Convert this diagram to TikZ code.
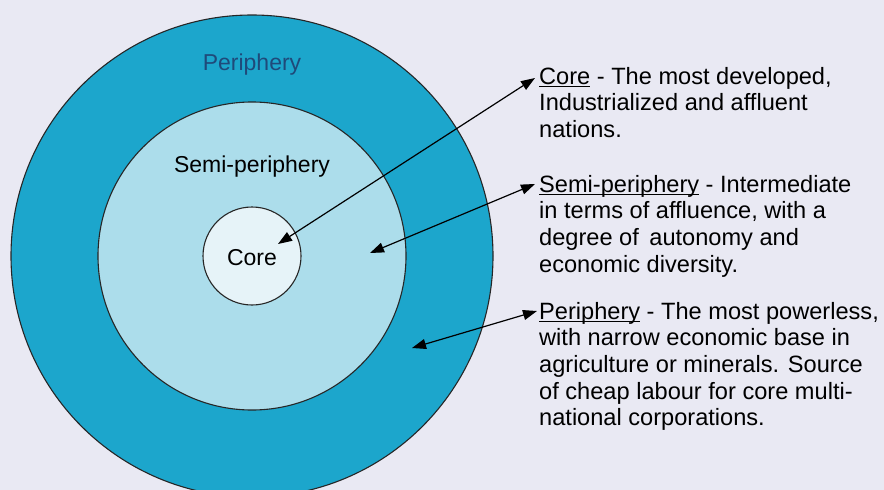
\documentclass[tikz,border=0pt]{standalone}
\usepackage{fontspec}
\setmainfont{Liberation Sans}
\usepackage{tikz}
\usetikzlibrary{
  arrows.meta,
  positioning,
}
\definecolor{pagebg}{HTML}{E9E9F3}
\definecolor{periblue}{HTML}{1CA6CC}
\definecolor{semiblue}{HTML}{ACDDEB}
\definecolor{corebg}{HTML}{E6F3F8}
\definecolor{labelblue}{HTML}{1F4A7A}
\newlength\undlw
\newcommand{\undl}[1]{\settowidth\undlw{#1}\rlap{\rule[-2.6pt]{\undlw}{0.9pt}}#1}

\begin{document}
\begin{tikzpicture}[
    x=1pt, y=-1pt,
    ring/.style={circle, draw=black!85, line width=1.1pt, inner sep=0pt},
    ringlabel/.style={font=\fontsize{23}{26}\selectfont, inner sep=0pt},
    note/.style={anchor=north west, align=left, inner sep=0pt,
                 font=\fontsize{23.6}{26.6}\selectfont},
    link/.style={draw=black, line width=1.2pt,
                 {Triangle[length=14pt,width=10pt]}-{Triangle[length=14pt,width=10pt]}},
  ]
  \fill[pagebg] (0,0) rectangle (884,490);
  \useasboundingbox (0,0) rectangle (884,490);

  \foreach \name/\col/\d in {periphery/periblue/482, semi/semiblue/308, core/corebg/98}
    \node[ring, fill=\col, minimum size=\d pt] (\name) at (252,256) {};

  \node[ringlabel, text=labelblue] (perilabel) at (252,65) {Periphery};
  \node[ringlabel] (semilabel) at (252,167) {Semi-periphery};
  \node[ringlabel] (corelabel) at (252,258) {Core};

  \node[note] (corenote) at (539,67)
    {\undl{Core} - The most developed,\\Industrialized and affluent\\nations.};
  \node[note] (seminote) at (539,175)
    {\undl{Semi-periphery} - Intermediate\\in terms of affluence, with a\\degree of\, autonomy and\\economic diversity.};
  \node[note] (perinote) at (539,302)
    {\undl{Periphery} - The most powerless,\\with narrow economic base in\\agriculture or minerals. Source\\of cheap labour for core multi-\\national corporations.};

  \coordinate (coretip) at (278,244);
  \coordinate (semitip) at (370,253);
  \coordinate (peritip) at (412,348);
  \coordinate (coreend) at (535,78);
  \coordinate (semiend) at (535,184);
  \coordinate (periend) at (537,311);

  \draw[link] (coreend) -- (coretip);
  \draw[link] (semiend) -- (semitip);
  \draw[link] (periend) -- (peritip);
\end{tikzpicture}
\end{document}
